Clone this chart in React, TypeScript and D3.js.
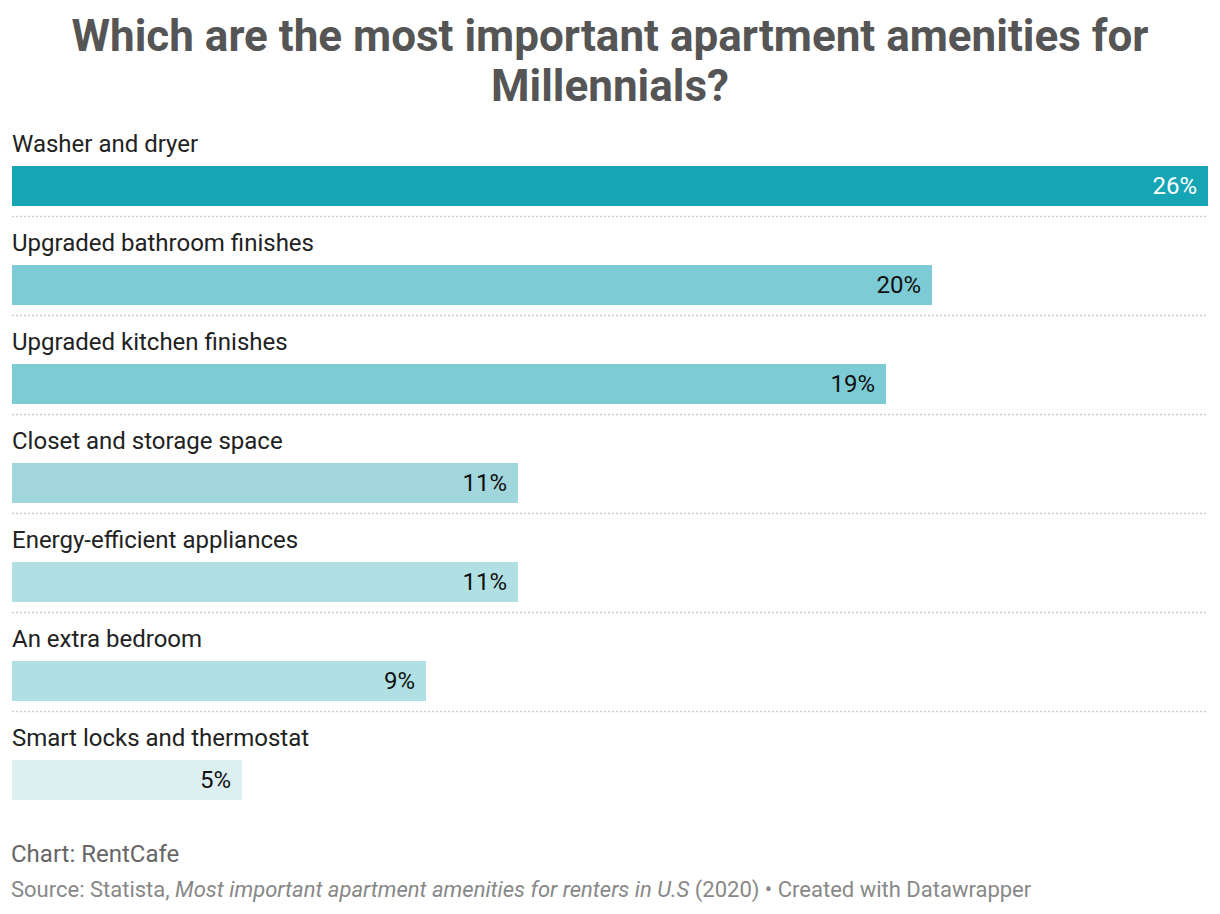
import React from "react";
import * as d3 from "d3";

const categories = [
  "Washer and dryer",
  "Upgraded bathroom finishes",
  "Upgraded kitchen finishes",
  "Closet and storage space",
  "Energy-efficient appliances",
  "An extra bedroom",
  "Smart locks and thermostat",
];
const values = [26, 20, 19, 11, 11, 9, 5];
const barColors = ["#15a5b5", "#7dcbd4", "#7dcbd4", "#a1d6dc", "#b0e0e3", "#b0e0e3", "#dcf0f2"];
const labelColors = ["#ffffff", "#111", "#111", "#111", "#111", "#111", "#111"];

const W = 1220;
const H = 914;
const font = "Roboto, 'Noto Sans', sans-serif";

export default function App() {
  const x = d3.scaleLinear().domain([0, 26]).range([12, 1208]);
  const y = d3.scaleBand<string>().domain(categories).range([130, 823]);

  return (
    <svg
      width={W}
      height={H}
      style={{ position: "absolute", left: 0, top: 0, background: "#fff" }}
      fontFamily={font}
    >
      {/* title */}
      <text x={610} y={51} textAnchor="middle" fontSize={44} fontWeight={700} fill="#555">
        Which are the most important apartment amenities for
      </text>
      <text x={610} y={101} textAnchor="middle" fontSize={44} fontWeight={700} fill="#555">
        Millennials?
      </text>

      {categories.map((c, i) => {
        const y0 = y(c) as number;
        return (
          <g key={c}>
            <text x={12} y={y0 + 22} fontSize={24} fill="#222">
              {c}
            </text>
            <rect x={x(0)} y={y0 + 36} width={x(values[i]) - x(0)} height={40} fill={barColors[i]} />
            <text
              x={x(values[i]) - 11}
              y={y0 + 56}
              dy="0.35em"
              textAnchor="end"
              fontSize={24}
              fill={labelColors[i]}
            >
              {values[i]}%
            </text>
            {i < categories.length - 1 && (
              <line
                x1={12}
                x2={1208}
                y1={y0 + 86.5}
                y2={y0 + 86.5}
                stroke="#ccc"
                strokeWidth={1.5}
                strokeDasharray="2,2"
              />
            )}
          </g>
        );
      })}

      {/* footer */}
      <text x={11} y={862} fontSize={24} fill="#666">
        Chart: RentCafe
      </text>
      <text x={11} y={897} fontSize={22} fill="#888">
        Source: Statista, <tspan fontStyle="italic">Most important apartment amenities for renters in U.S</tspan> (2020)
        • Created with Datawrapper
      </text>
    </svg>
  );
}
